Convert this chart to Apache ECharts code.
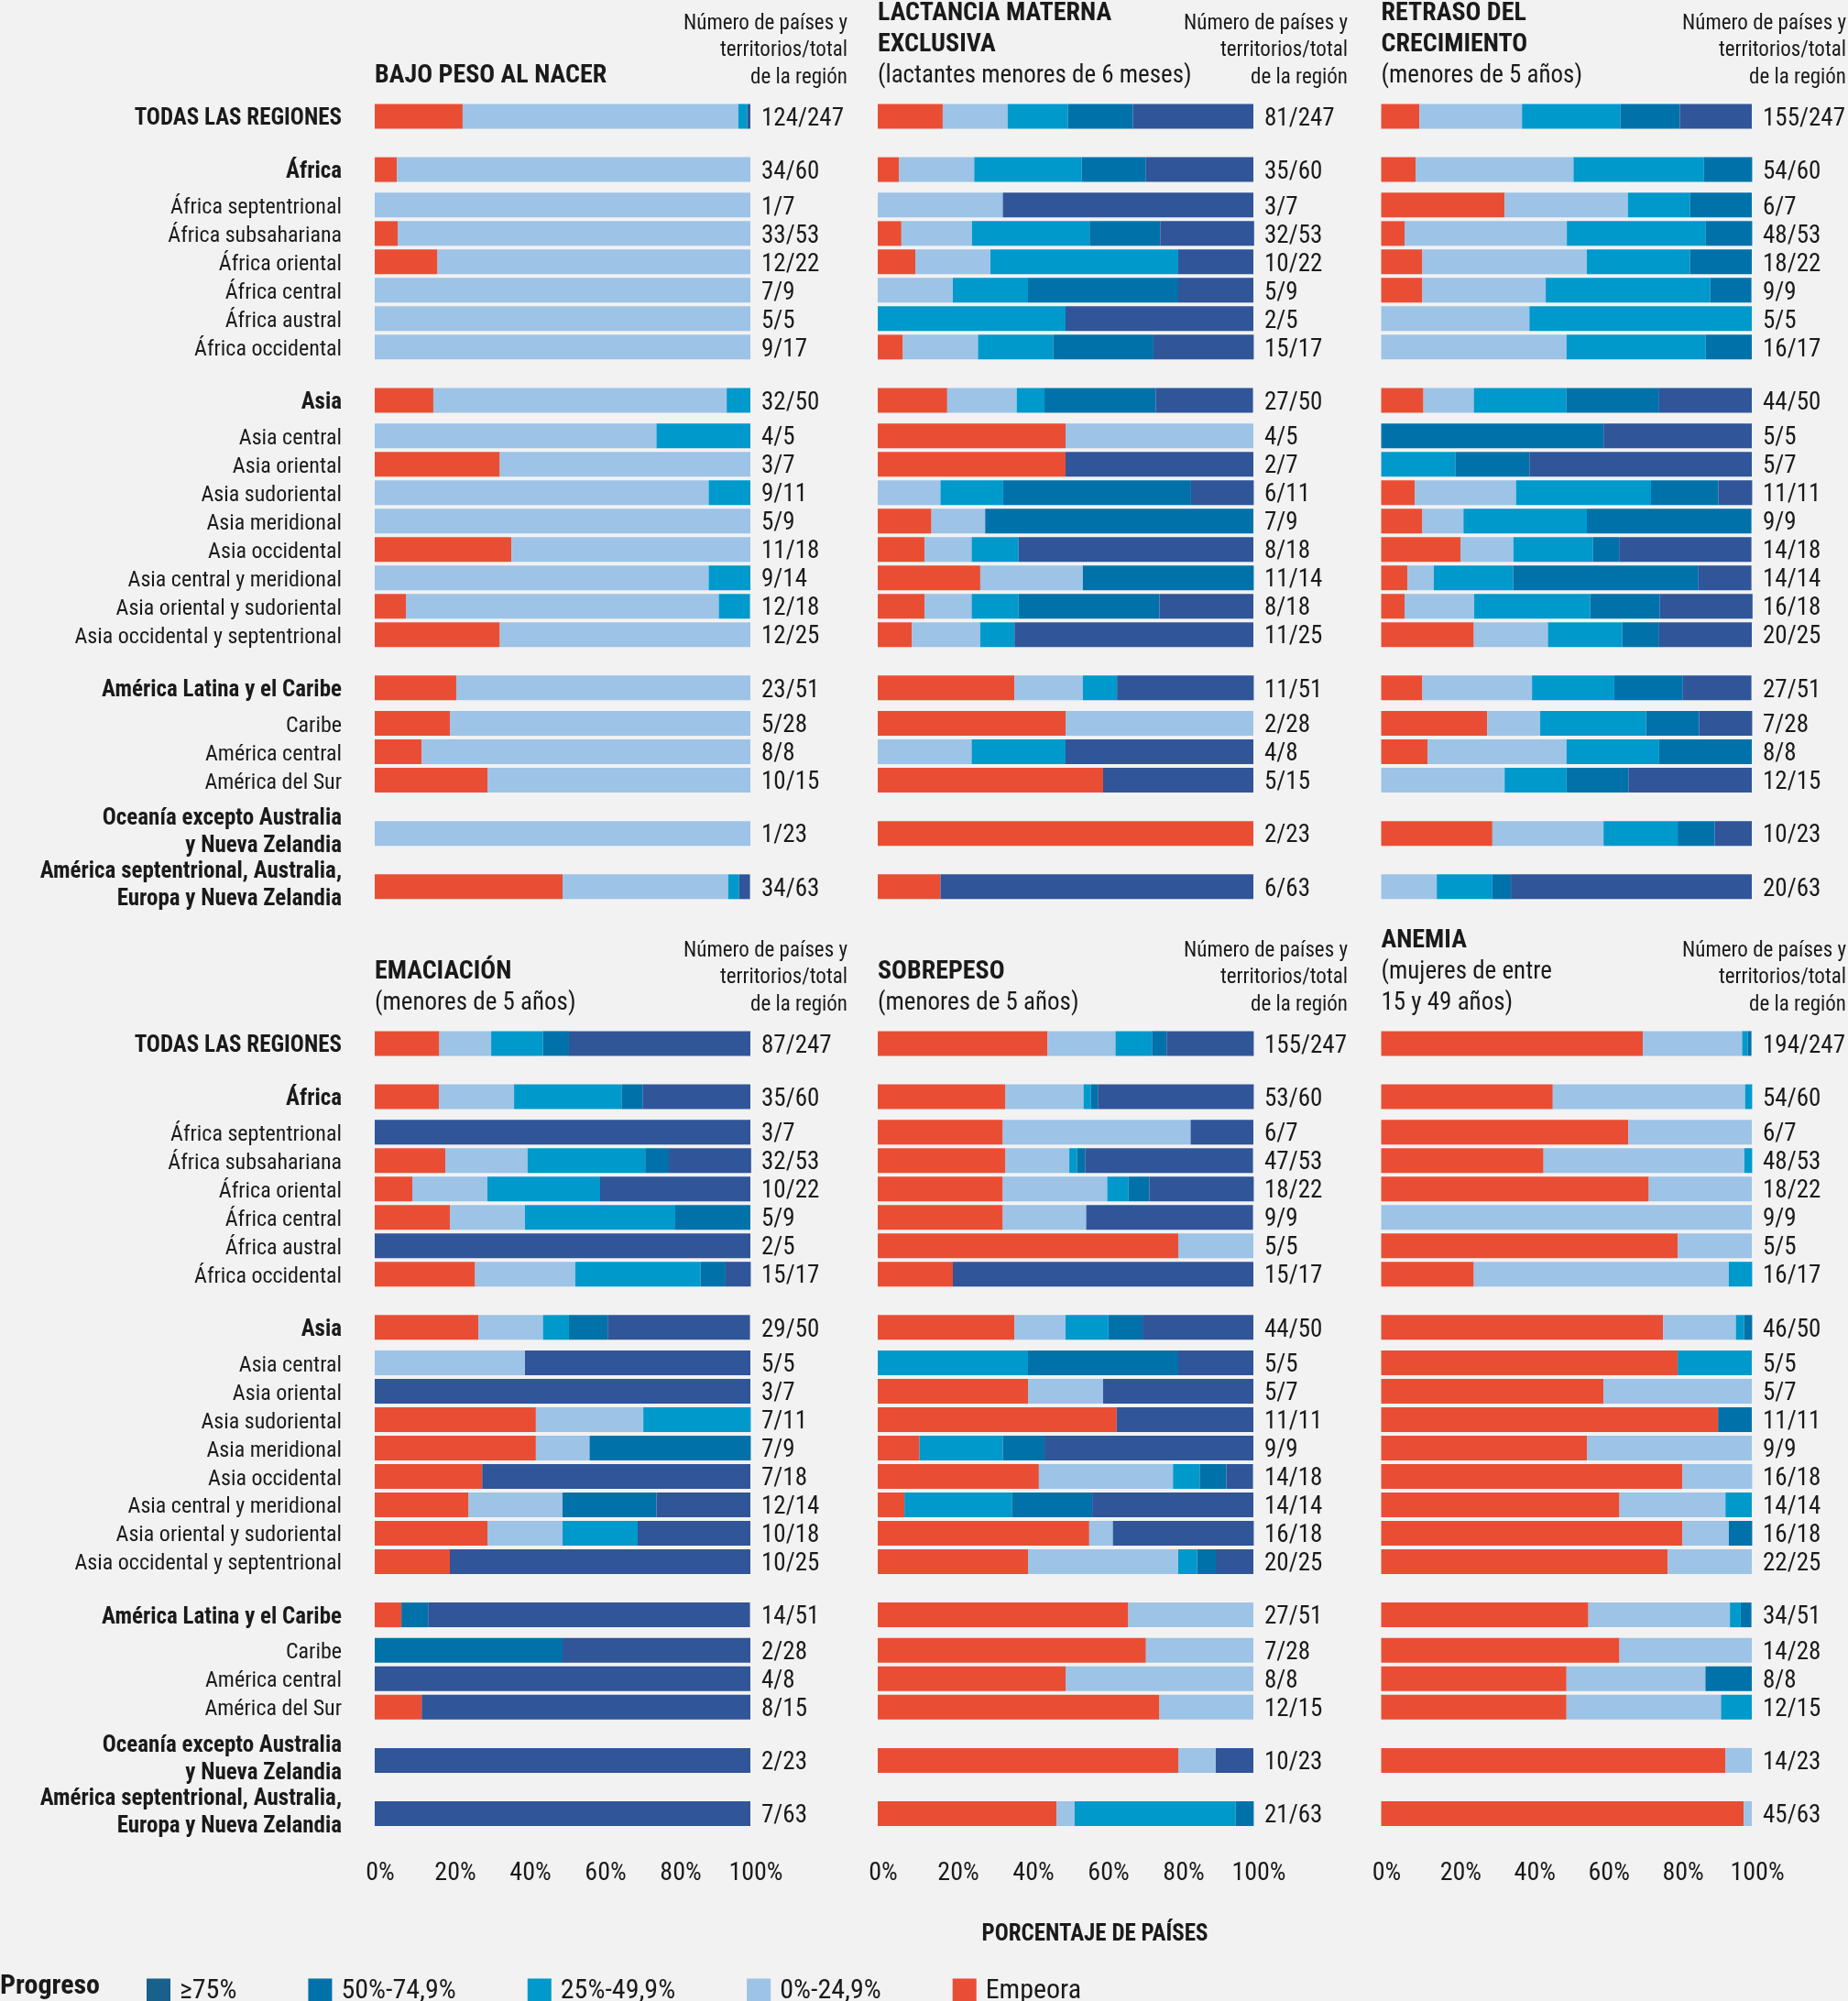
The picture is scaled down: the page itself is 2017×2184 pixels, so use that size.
<!DOCTYPE html>
<html><head><meta charset="utf-8">
<script src="https://cdn.jsdelivr.net/npm/echarts@6/dist/echarts.min.js"></script>
<style>html,body{margin:0;padding:0;background:#f2f2f2;}#c{width:2017px;height:2184px;}</style>
</head><body><div id="c"></div>
<script>
const FONT = "'Liberation Sans Narrow','Arial Narrow','Roboto Condensed','DejaVu Sans Condensed',sans-serif";
const INK = '#1a1a1a';

// ---------- categories ----------
const regions = [
  'TODAS LAS REGIONES',
  'África','África septentrional','África subsahariana','África oriental','África central','África austral','África occidental',
  'Asia','Asia central','Asia oriental','Asia sudoriental','Asia meridional','Asia occidental','Asia central y meridional','Asia oriental y sudoriental','Asia occidental y septentrional',
  'América Latina y el Caribe','Caribe','América central','América del Sur',
  'Oceanía excepto Australia\ny Nueva Zelandia',
  'América septentrional, Australia,\nEuropa y Nueva Zelandia'
];
const headerRegions = ['TODAS LAS REGIONES','África','Asia','América Latina y el Caribe',
  'Oceanía excepto Australia\ny Nueva Zelandia','América septentrional, Australia,\nEuropa y Nueva Zelandia'];

const progressLevels = ['Empeora','0%-24,9%','25%-49,9%','50%-74,9%','≥75%'];
const legendOrder = ['≥75%','50%-74,9%','25%-49,9%','0%-24,9%','Empeora'];
const xTicks = [0,20,40,60,80,100];

// ---------- values (% of countries): [Empeora, 0-24,9, 25-49,9, 50-74,9, >=75] ----------
const bajoPesoNacer = [
  [23.4,73.4,2.4,0,0.8],
  [5.9,94.1,0,0,0],[0,100,0,0,0],[6.1,93.9,0,0,0],[16.7,83.3,0,0,0],[0,100,0,0,0],[0,100,0,0,0],[0,100,0,0,0],
  [15.6,78.1,6.3,0,0],[0,75,25,0,0],[33.3,66.7,0,0,0],[0,88.9,11.1,0,0],[0,100,0,0,0],[36.4,63.6,0,0,0],[0,88.9,11.1,0,0],[8.3,83.3,8.3,0,0],[33.3,66.7,0,0,0],
  [21.7,78.3,0,0,0],[20,80,0,0,0],[12.5,87.5,0,0,0],[30,70,0,0,0],
  [0,100,0,0,0],
  [50,44.1,2.9,0,2.9]
];
const bajoPesoNacerN = ['124/247','34/60','1/7','33/53','12/22','7/9','5/5','9/17','32/50','4/5','3/7','9/11','5/9','11/18','9/14','12/18','12/25','23/51','5/28','8/8','10/15','1/23','34/63'];

const lactancia = [
  [17.3,17.3,16.0,17.3,32.1],
  [5.7,20,28.6,17.1,28.6],[0,33.3,0,0,66.7],[6.3,18.8,31.3,18.8,25],[10,20,50,0,20],[0,20,20,40,20],[0,0,50,0,50],[6.7,20,20,26.7,26.7],
  [18.5,18.5,7.4,29.6,25.9],[50,50,0,0,0],[50,0,0,0,50],[0,16.7,16.7,50,16.7],[14.3,14.3,0,71.4,0],[12.5,12.5,12.5,0,62.5],[27.3,27.3,0,45.5,0],[12.5,12.5,12.5,37.5,25],[9.1,18.2,9.1,0,63.6],
  [36.4,18.2,9.1,0,36.4],[50,50,0,0,0],[0,25,25,0,50],[60,0,0,0,40],
  [100,0,0,0,0],
  [16.7,0,0,0,83.3]
];
const lactanciaN = ['81/247','35/60','3/7','32/53','10/22','5/9','2/5','15/17','27/50','4/5','2/7','6/11','7/9','8/18','11/14','8/18','11/25','11/51','2/28','4/8','5/15','2/23','6/63'];

const retraso = [
  [10.3,27.7,26.5,16.1,19.4],
  [9.3,42.6,35.2,13.0,0],[33.3,33.3,16.7,16.7,0],[6.3,43.8,37.5,12.5,0],[11.1,44.4,27.8,16.7,0],[11.1,33.3,44.4,11.1,0],[0,40,60,0,0],[0,50,37.5,12.5,0],
  [11.4,13.6,25,25,25],[0,0,0,60,40],[0,0,20,20,60],[9.1,27.3,36.4,18.2,9.1],[11.1,11.1,33.3,44.4,0],[21.4,14.3,21.4,7.1,35.7],[7.1,7.1,21.4,50,14.3],[6.3,18.8,31.3,18.8,25],[25,20,20,10,25],
  [11.1,29.6,22.2,18.5,18.5],[28.6,14.3,28.6,14.3,14.3],[12.5,37.5,25,25,0],[0,33.3,16.7,16.7,33.3],
  [30,30,20,10,10],
  [0,15,15,5,65]
];
const retrasoN = ['155/247','54/60','6/7','48/53','18/22','9/9','5/5','16/17','44/50','5/5','5/7','11/11','9/9','14/18','14/14','16/18','20/25','27/51','7/28','8/8','12/15','10/23','20/63'];

const emaciacion = [
  [17.2,13.8,13.8,6.9,48.3],
  [17.1,20,28.6,5.7,28.6],[0,0,0,0,100],[18.8,21.9,31.3,6.3,21.9],[10,20,30,0,40],[20,20,40,20,0],[0,0,0,0,100],[26.7,26.7,33.3,6.7,6.7],
  [27.6,17.2,6.9,10.3,37.9],[0,40,0,0,60],[0,0,0,0,100],[42.9,28.6,28.6,0,0],[42.9,14.3,0,42.9,0],[28.6,0,0,0,71.4],[25,25,0,25,25],[30,20,20,0,30],[20,0,0,0,80],
  [7.1,0,0,7.1,85.7],[0,0,0,50,50],[0,0,0,0,100],[12.5,0,0,0,87.5],
  [0,0,0,0,100],
  [0,0,0,0,100]
];
const emaciacionN = ['87/247','35/60','3/7','32/53','10/22','5/9','2/5','15/17','29/50','5/5','3/7','7/11','7/9','7/18','12/14','10/18','10/25','14/51','2/28','4/8','8/15','2/23','7/63'];

const sobrepeso = [
  [45.2,18.1,9.7,3.9,23.2],
  [34.0,20.8,1.9,1.9,41.5],[33.3,50,0,0,16.7],[34.0,17.0,2.1,2.1,44.7],[33.3,27.8,5.6,5.6,27.8],[33.3,22.2,0,0,44.4],[80,20,0,0,0],[20,0,0,0,80],
  [36.4,13.6,11.4,9.1,29.5],[0,0,40,40,20],[40,20,0,0,40],[63.6,0,0,0,36.4],[11.1,0,22.2,11.1,55.6],[42.9,35.7,7.1,7.1,7.1],[7.1,0,28.6,21.4,42.9],[56.3,6.3,0,0,37.5],[40,40,5,5,10],
  [66.7,33.3,0,0,0],[71.4,28.6,0,0,0],[50,50,0,0,0],[75,25,0,0,0],
  [80,10,0,0,10],
  [47.6,4.8,42.9,4.8,0]
];
const sobrepesoN = ['155/247','53/60','6/7','47/53','18/22','9/9','5/5','15/17','44/50','5/5','5/7','11/11','9/9','14/18','14/14','16/18','20/25','27/51','7/28','8/8','12/15','10/23','21/63'];

const anemia = [
  [70.6,26.8,1.5,1.0,0],
  [46.3,51.9,1.9,0,0],[66.7,33.3,0,0,0],[43.8,54.2,2.1,0,0],[72.2,27.8,0,0,0],[0,100,0,0,0],[80,20,0,0,0],[25,68.8,6.3,0,0],
  [76.1,19.6,2.2,2.2,0],[80,0,20,0,0],[60,40,0,0,0],[90.9,0,0,9.1,0],[55.6,44.4,0,0,0],[81.3,18.8,0,0,0],[64.3,28.6,7.1,0,0],[81.3,12.5,0,6.3,0],[77.3,22.7,0,0,0],
  [55.9,38.2,2.9,2.9,0],[64.3,35.7,0,0,0],[50,37.5,0,12.5,0],[50,41.7,8.3,0,0],
  [92.9,7.1,0,0,0],
  [97.8,2.2,0,0,0]
];
const anemiaN = ['194/247','54/60','6/7','48/53','18/22','9/9','5/5','16/17','46/50','5/5','5/7','11/11','9/9','16/18','14/14','16/18','22/25','34/51','14/28','8/8','12/15','14/23','45/63'];

const panelTitles = [
  [['BAJO PESO AL NACER',true]],
  [['LACTANCIA MATERNA',true],['EXCLUSIVA',true],['(lactantes menores de 6 meses)',false]],
  [['RETRASO DEL',true],['CRECIMIENTO',true],['(menores de 5 años)',false]],
  [['EMACIACIÓN',true],['(menores de 5 años)',false]],
  [['SOBREPESO',true],['(menores de 5 años)',false]],
  [['ANEMIA',true],['(mujeres de entre',false],['15 y 49 años)',false]]
];
const noteLines = ['Número de países y','territorios/total','de la región'];
const panelRows = [bajoPesoNacer, lactancia, retraso, emaciacion, sobrepeso, anemia];
const panelCounts = [bajoPesoNacerN, lactanciaN, retrasoN, emaciacionN, sobrepesoN, anemiaN];

// ---------- styles / layout ----------
const levelColors = ['#e94e35','#9dc3e6','#0099cc','#0072a9','#305598'];
const legendSwatch = {'≥75%':'#17618a'};
const panelLeft = [409, 958, 1507.5];
const panelWidth = 410;
const sectionTop = [125.06, 1136.96];
const sectionHeight = [844.7, 844.5];
const firstRowY = [127, 1139];
const noteRight = [925, 1471, 2015];
const GAP_GROUP = 15, GAP_HEAD = 10, GAP_SUB = 8; // spacing in 1/8-row units

const slot = [];
let s = 0;
regions.forEach((r, i) => {
  if (i > 0) {
    const h = headerRegions.includes(r), ph = headerRegions.includes(regions[i-1]);
    s += h ? GAP_GROUP : (ph ? GAP_HEAD : GAP_SUB);
  }
  slot.push(s);
});
const nSlots = s + 1;
function spread(vals, fill) { const a = new Array(nSlots).fill(fill); vals.forEach((v, i) => { a[slot[i]] = v; }); return a; }

function rowLabel(v) {
  if (!headerRegions.includes(v)) return v;
  const parts = v.split('\n');
  const txt = parts.map(l => '{b|' + l + '}').join('\n');
  return parts.length > 1 ? txt + '\n{s| }' : txt;
}
function countLabel(v) { return v ? '{s| }\n{v|' + v + '}' : ''; }

const grids = [], xAxes = [], yAxes = [], series = [], graphics = [];
panelRows.forEach((rows, p) => {
  const col = p % 3, sec = Math.floor(p / 3);
  grids.push({ left: panelLeft[col], width: panelWidth, top: sectionTop[sec], height: sectionHeight[sec] });
  xAxes.push({
    gridIndex: p, type: 'value', min: xTicks[0], max: xTicks[xTicks.length-1], interval: xTicks[1]-xTicks[0],
    axisLine: {show:false}, axisTick: {show:false}, splitLine: {show:false},
    axisLabel: { show: sec === 1, formatter: '{value}%', margin: 50, fontSize: 28, fontFamily: FONT, color: INK, padding: [0,0,0,12] }
  });
  yAxes.push({
    gridIndex: p, type: 'category', inverse: true, data: spread(regions, ''),
    axisLine: {show:false}, axisTick: {show:false}, splitLine: {show:false},
    axisLabel: {
      show: col === 0, interval: 0, margin: 36, fontSize: 24, fontFamily: FONT, color: INK, lineHeight: 30,
      padding: [6,0,0,0],
      formatter: rowLabel,
      rich: {
        b: { fontWeight: 'bold', fontSize: 25, fontFamily: FONT, color: INK, lineHeight: 30 },
        s: { fontSize: 1, lineHeight: 8 }
      }
    }
  });
  yAxes.push({
    gridIndex: p, type: 'category', inverse: true, position: 'right', data: spread(panelCounts[p], ''),
    axisLine: {show:false}, axisTick: {show:false}, splitLine: {show:false},
    axisLabel: {
      interval: 0, margin: 12, fontSize: 27, fontFamily: FONT, color: INK,
      formatter: countLabel,
      rich: { v: { fontSize: 27, fontFamily: FONT, color: INK, lineHeight: 28 }, s: { fontSize: 1, lineHeight: 6 } }
    }
  });
  progressLevels.forEach((name, k) => {
    series.push({
      type: 'bar', name, stack: 'p' + p, xAxisIndex: p, yAxisIndex: 2*p, barWidth: 27, clip: false,
      itemStyle: { color: levelColors[k] }, silent: true,
      data: spread(rows.map(r => r[k] > 0 ? r[k] : null), null)
    });
  });
  // titles
  const y0 = firstRowY[sec];
  const lines = panelTitles[p];
  const titleYs = lines.length === 1 ? [y0 - 44] : lines.length === 2 ? [y0 - 78, y0 - 44] : [y0 - 112, y0 - 78, y0 - 44];
  lines.forEach(([t, bold], j) => {
    graphics.push({ type: 'text', x: panelLeft[col], y: titleYs[j], silent: true,
      style: { text: t, fontFamily: FONT, fontSize: bold ? 28 : 27, fontWeight: bold ? 'bold' : 'normal', fill: INK, align: 'left', verticalAlign: 'middle' } });
  });
  noteLines.forEach((t, j) => {
    graphics.push({ type: 'text', x: noteRight[col], y: y0 - 101 + j * 29.5, silent: true,
      style: { text: t, fontFamily: FONT, fontSize: 23, fill: INK, align: 'right', verticalAlign: 'middle' } });
  });
});

graphics.push({ type: 'text', x: 1195, y: 2112, silent: true,
  style: { text: 'PORCENTAJE DE PAÍSES', fontFamily: FONT, fontSize: 25, fontWeight: 'bold', fill: INK, align: 'center', verticalAlign: 'middle' } });
graphics.push({ type: 'text', x: 0, y: 2168, silent: true,
  style: { text: 'Progreso', fontFamily: FONT, fontSize: 30, fontWeight: 'bold', fill: INK, align: 'left', verticalAlign: 'middle' } });

const chart = echarts.init(document.getElementById('c'), null, { renderer: 'canvas' });
chart.setOption({
  backgroundColor: '#f2f2f2',
  animation: false,
  grid: grids, xAxis: xAxes, yAxis: yAxes, series,
  legend: {
    left: 155, top: 2153, itemWidth: 26, itemHeight: 27, itemGap: 78, icon: 'rect', selectedMode: false,
    data: legendOrder.map(n => legendSwatch[n] ? { name: n, itemStyle: { color: legendSwatch[n] } } : { name: n }),
    textStyle: { fontSize: 30, fontFamily: FONT, color: INK, padding: [0,0,0,5] }
  },
  graphic: graphics
});
</script></body></html>
